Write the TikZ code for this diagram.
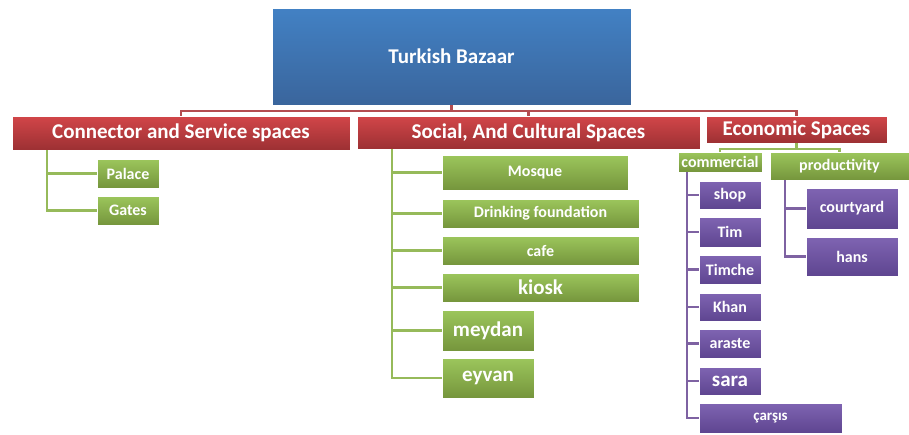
\documentclass[tikz,border=0pt]{standalone}
\usepackage{fontspec}
\setmainfont{Carlito}
\usetikzlibrary{positioning}
\usetikzlibrary{calc}

\definecolor{bluetop}{RGB}{66,129,196}
\definecolor{bluebot}{RGB}{58,101,156}
\definecolor{redtop}{RGB}{210,70,73}
\definecolor{redbot}{RGB}{156,48,51}
\definecolor{greentop}{RGB}{156,198,92}
\definecolor{greenbot}{RGB}{117,149,60}
\definecolor{purptop}{RGB}{127,100,178}
\definecolor{purpbot}{RGB}{94,69,144}
\definecolor{redline}{RGB}{180,76,80}
\definecolor{greenline}{RGB}{150,186,90}
\definecolor{purpline}{RGB}{126,98,162}

\tikzset{
  box/.style={rectangle,inner sep=0pt,text=white,font=\bfseries,draw=white,line width=0.4pt},
  rootbox/.style={box,top color=bluetop,bottom color=bluebot},
  catbox/.style={box,top color=redtop,bottom color=redbot},
  subbox/.style={box,top color=greentop,bottom color=greenbot},
  leafbox/.style={box,top color=purptop,bottom color=purpbot},
  hv/.style={to path={-| (\tikztotarget)}},
  vh/.style={to path={|- (\tikztotarget)}},
  fs/.style={font=\bfseries\fontsize{#1}{#1}\selectfont}
}

\begin{document}
\begin{tikzpicture}[x=1pt,y=-1pt]
\useasboundingbox (0,0) rectangle (909,434);

% top
\node[rootbox,fs=21,minimum width=359,minimum height=97](root) at (451.5,56.5){Turkish Bazaar};

% categories
\node[catbox,fs=21,minimum width=338,minimum height=34](con) at (181,133){Connector and Service spaces};
\node[catbox,fs=21,minimum width=343,minimum height=33](soc) at (528.5,132.5){Social, And Cultural Spaces};
\node[catbox,fs=21,minimum width=181,minimum height=27](eco) at (796.5,129.5){Economic Spaces};

% connector and service
\node[subbox,fs=16,minimum width=62,minimum height=29](palace) at (128,173.5){Palace};
\node[subbox,fs=16,minimum width=62,minimum height=29](gates) at (128,210.5){Gates};

% social and cultural
\node[subbox,fs=16,minimum width=186,minimum height=35](mosque) at (535,172.5){Mosque};
\node[subbox,fs=16,minimum width=197,minimum height=29](drink) at (540.5,213.5){Drinking foundation};
\node[subbox,fs=16,minimum width=197,minimum height=29](cafe) at (540.5,250.5){cafe};
\node[subbox,fs=21,minimum width=197,minimum height=29](kiosk) at (540.5,287.5){kiosk};
\node[subbox,fs=21,minimum width=92,minimum height=41](meydan) at (488,330.5){meydan};
\node[subbox,fs=21,minimum width=92,minimum height=40](eyvan) at (488,378){eyvan};

% economic
\node[subbox,fs=16,minimum width=84,minimum height=20](comm) at (720,162){commercial};
\node[subbox,fs=16,minimum width=139,minimum height=28](prod) at (839.5,166){productivity};

\node[leafbox,fs=16,minimum width=62,minimum height=28](shop) at (730,195){shop};
\node[leafbox,fs=16,minimum width=62,minimum height=30](tim) at (730,232){Tim};
\node[leafbox,fs=16,minimum width=62,minimum height=29](timche) at (730,269.5){Timche};
\node[leafbox,fs=16,minimum width=62,minimum height=28](khan) at (730,307){Khan};
\node[leafbox,fs=16,minimum width=62,minimum height=29](araste) at (730,343.5){araste};
\node[leafbox,fs=21,minimum width=62,minimum height=28](sara) at (730,381){sara};
\node[leafbox,fs=15,minimum width=143,minimum height=30](carsis) at (770.5,418){çarşıs};

\node[leafbox,fs=16,minimum width=92,minimum height=41](court) at (852,208.5){courtyard};
\node[leafbox,fs=16,minimum width=92,minimum height=39](hans) at (852,256.5){hans};

\coordinate (rootbus) at (451.5,111);
\coordinate (ecobus) at (796.5,149);
\coordinate (conbus) at (47,150);
\coordinate (socbus) at (392,149);
\coordinate (commbus) at (687,172);
\coordinate (prodbus) at (785,180);

\path[draw=redline,line width=2.5pt]
(root) -- (rootbus)
(rootbus) edge[hv] (con)
(rootbus) edge[hv] (soc)
(rootbus) edge[hv] (eco);

\path[draw=greenline,line width=2.5pt]
(eco) -- (ecobus)
(ecobus) edge[hv] (comm)
(ecobus) edge[hv] (prod)
(conbus) edge[vh] (palace)
(conbus) edge[vh] (gates)
(socbus) edge[vh] (mosque)
(socbus) edge[vh] (drink)
(socbus) edge[vh] (cafe)
(socbus) edge[vh] (kiosk)
(socbus) edge[vh] (meydan)
(socbus) edge[vh] (eyvan);

\path[draw=purpline,line width=2.5pt]
(commbus) edge[vh] (shop)
(commbus) edge[vh] (tim)
(commbus) edge[vh] (timche)
(commbus) edge[vh] (khan)
(commbus) edge[vh] (araste)
(commbus) edge[vh] (sara)
(commbus) edge[vh] (carsis)
(prodbus) edge[vh] (court)
(prodbus) edge[vh] (hans);
\end{tikzpicture}
\end{document}
